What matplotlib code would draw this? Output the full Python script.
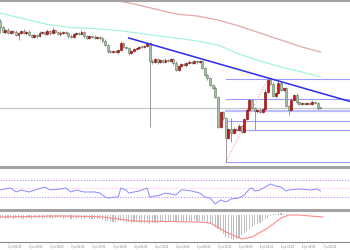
import matplotlib
matplotlib.use('Agg')
import matplotlib.pyplot as plt
import numpy as np

# hourly candles, first one is 1 Jul 23:00 (hour -3 relative to 2 Jul 02:00)
first_open = 145
closes = [139, 134, 136, 133, 135, 134, 131, 133, 135, 133,
          134, 131, 129, 131, 130, 133, 134, 132, 135, 133,
          136, 134, 132, 133, 134, 133, 130, 129, 132, 133,
          132, 134, 130, 128, 130, 129, 128, 129, 128, 125,
          121, 115, 114, 115, 114, 116, 123, 119, 118, 113,
          115, 117, 118, 119, 119, 120, 123, 105, 104, 107,
          104, 106, 104, 106, 105, 107, 103, 96, 100, 102,
          101, 103, 104, 103, 105, 104, 105, 98, 91, 88,
          81, 78, 69, 39, 54, 48, 28, 37, 33, 37,
          36, 40, 34, 47, 56, 66, 58, 55, 56, 54,
          57, 74, 86, 82, 70, 73, 83, 76, 78, 60,
          56, 66, 71, 64, 62, 63, 62, 63, 62, 64,
          63, 58, 58]
upper_wick = [2, 1, 1, 2, 1, 1, 2, 1, 1, 2,
              1, 2, 1, 1, 1, 2, 1, 1, 2, 1,
              3, 1, 1, 2, 1, 1, 1, 2, 1, 1,
              1, 2, 1, 1, 1, 1, 2, 1, 1, 1,
              2, 1, 1, 1, 1, 1, 2, 1, 1, 1,
              1, 1, 1, 1, 1, 1, 1, 1, 2, 1,
              1, 1, 1, 2, 1, 1, 1, 2, 1, 1,
              1, 1, 2, 1, 1, 1, 1, 1, 1, 1,
              1, 1, 2, 1, 1, 1, 1, 1, 11, 2,
              1, 2, 1, 1, 2, 2, 1, 1, 1, 2,
              1, 3, 1, 1, 2, 1, 3, 2, 1, 1,
              1, 2, 1, 2, 1, 1, 1, 1, 1, 2,
              1, 1, 1]
lower_wick = [6, 1, 2, 1, 1, 2, 1, 5, 1, 1,
              2, 1, 1, 1, 2, 1, 1, 1, 1, 2,
              1, 1, 1, 2, 1, 1, 2, 1, 1, 1,
              1, 1, 2, 1, 1, 1, 1, 1, 2, 1,
              1, 2, 1, 1, 1, 2, 1, 1, 1, 2,
              1, 1, 1, 1, 1, 1, 1, 66, 2, 1,
              2, 1, 1, 1, 1, 1, 2, 1, 1, 1,
              1, 2, 1, 1, 1, 2, 1, 1, 1, 2,
              1, 1, 1, 1, 1, 2, 24, 1, 9, 1,
              2, 1, 1, 1, 1, 1, 1, 19, 2, 1,
              1, 2, 1, 1, 1, 2, 1, 1, 1, 1,
              5, 1, 1, 2, 1, 1, 1, 1, 1, 1,
              1, 2, 1]

# moving averages (knots)
ma_fast_h = [-3, 0, 8, 16, 24, 32, 40, 48, 56, 64, 72, 80, 88, 96, 104, 112, 119]
ma_fast = [153, 151, 146, 141, 138.5, 137.5, 136, 133.5, 130.5, 128, 125, 121, 112, 105, 99, 94, 89]
ma_slow_h = [32, 40, 48, 56, 64, 72, 80, 88, 96, 104, 112, 119]
ma_slow = [170, 166, 162, 157, 152, 150, 146, 140, 133, 126, 119, 114]

# trend line, fibo anchors, last price
trend_h = [46, 131]
trend_p = [128, 64]
fib_low_h, fib_low = 83, 4
fib_high_h, fib_high = 99, 87
fib_ratios = [0, 0.236, 0.382, 0.5, 0.618, 1]
last_price = 58

# RSI (knots)
rsi_h = [-3, 1, 3, 5, 8, 14, 16, 20, 22, 24, 26, 29, 33, 35, 37, 38, 41, 42, 43, 45,
         46, 50, 52, 53, 54, 58, 60, 62, 64, 66, 67, 70, 73, 75, 77, 79, 80, 81, 83, 85,
         88, 90, 92, 93, 94, 96, 98, 100, 102, 104, 106, 107, 111, 115, 118, 119]
rsi = [46.5, 51.2, 41.8, 46.5, 41.8, 53.5, 46.5, 48.8, 51.2, 41.8, 46.5, 41.8, 41.8, 39.4,
       30, 27.6, 30, 30, 51.2, 46.5, 39.4, 44.1, 48.8, 51.2, 30, 34.7, 39.4, 37.1, 34.7,
       46.5, 46.5, 44.1, 39.4, 30, 27.6, 13.5, 18.2, 22.9, 18.2, 25.3, 27.6, 34.7, 48.8,
       51.2, 44.1, 46.5, 53.5, 60.6, 55.9, 53.5, 44.1, 46.5, 48.8, 46.5, 48.8, 44.1]

# MACD histogram (hourly) and signal (knots)
macd_hist = [-3, -3, -4, -3, -3, -4, -3, -3, -4, -4,
             -3, -3, -4, -3, -3, -3, -4, -3, -3, -3,
             -4, -3, -3, -3, -4, -3, -3, -4, -3, -4,
             -3, -4, -4, -3, -4, -4, -4, -4, -4,
             -5, -6, -6, -7, -7, -7, -6, -6, -7, -7,
             -7, -8, -7, -7, -8, -8, -8, -8, -9, -8,
             -8, -8, -7, -7, -8, -7, -7, -7,
             -6, -6, -6, -7, -6, -6, -6, -5, -6, -6,
             -6, -6, -8, -9,
             -10, -12, -14,
             -16, -19, -22, -23, -24, -25, -24, -23,
             -20, -18, -16, -14, -12, -10,
             -9, -8, -6,
             -4, -3, -1, 1, 1, 2, 2, 1,
             1, 0, 0, 0, 0, 0, 0, 0, 0, 0, 0, 0, 0, 0]
sig_h = [-3, 8, 20, 35, 48, 60, 73, 77, 83, 89, 93, 99, 104, 107, 111, 115, 120]
sig = [-2, -1.5, -1, -1.7, -6, -6.5, -7, -8, -17, -24, -22, -13, -3, 0, 0, -1, -2]

tick_labels = ['2 Jul 02:00', '2 Jul 10:00', '2 Jul 18:00', '3 Jul 02:00', '3 Jul 10:00',
               '3 Jul 18:00', '4 Jul 02:00', '4 Jul 10:00', '4 Jul 18:00', '5 Jul 02:00',
               '5 Jul 10:00', '5 Jul 18:00', '6 Jul 02:00', '6 Jul 10:00', '6 Jul 18:00',
               '7 Jul 02:00']

closes = np.array(closes, dtype=float)
hours = np.arange(-3, -3 + len(closes))
opens = np.r_[first_open, closes[:-1]]
highs = np.maximum(opens, closes) + np.array(upper_wick)
lows = np.minimum(opens, closes) - np.array(lower_wick)

fig = plt.figure(figsize=(3.5, 2.5), dpi=100)
ax = fig.add_axes([0, 0.336, 1, 0.66])
ax_rsi = fig.add_axes([0, 0.16, 1, 0.168], sharex=ax)
ax_macd = fig.add_axes([0, 0.032, 1, 0.124], sharex=ax)

# candles
ax.vlines(hours, lows, highs, color='#8a8a8a', lw=0.6, zorder=2)
bull = closes <= opens
bear = ~bull
body = np.maximum(np.abs(closes - opens), 0.6)
ax.bar(hours[bull], body[bull], bottom=np.minimum(opens, closes)[bull], width=0.75,
       color='#a9bfa9', edgecolor='#5e7a5e', lw=0.4, zorder=3)
ax.bar(hours[bear], body[bear], bottom=np.minimum(opens, closes)[bear], width=0.75,
       color='#d01515', edgecolor='#7a0000', lw=0.4, zorder=3)

ax.plot(ma_fast_h, ma_fast, color='#a6f5d8', lw=0.9, zorder=1)
ax.plot(ma_slow_h, ma_slow, color='#e3a7a7', lw=0.9, zorder=1)
ax.plot(trend_h, trend_p, color='#2b2bea', lw=1.1, zorder=4)
ax.axhline(last_price, color='#c4c4c4', lw=0.8, zorder=1)

for r in fib_ratios:
    lvl = fib_high - r * (fib_high - fib_low)
    lw = 1.6 if r == 0.382 else 0.8
    col = '#bdbdff' if r == 0.382 else '#9c9cff'
    ax.plot([fib_low_h, 131], [lvl, lvl], color=col, lw=lw, zorder=1)
ax.plot([fib_low_h, fib_high_h], [fib_low, fib_high], color='#ff9a9a', lw=0.8, ls=(0, (1, 1.5)), zorder=1)

ax.set_ylim(0, 165)
ax.set_xlim(-3.05, 130.3)

# RSI
ax_rsi.axhline(70, color='#c48cff', lw=0.8, ls=(0, (1, 1.5)))
ax_rsi.axhline(30, color='#c48cff', lw=0.8, ls=(0, (1, 1.5)))
ax_rsi.axhline(50, color='#ffcdf5', lw=0.8, ls=(0, (1, 1)))
ax_rsi.plot(rsi_h, rsi, color='#8a8aff', lw=0.7)
ax_rsi.set_ylim(-0.6, 98.2)

# MACD
ax_macd.bar(hours, macd_hist, width=0.45, color='#bdbdbd', zorder=1)
ax_macd.plot(sig_h, sig, color='#ff8a8a', lw=0.8, zorder=2)
ax_macd.set_ylim(-27, 4)

for a in (ax, ax_rsi, ax_macd):
    for s in a.spines.values():
        s.set_visible(False)
    a.tick_params(left=False, bottom=False, labelleft=False, labelbottom=False)

ax_macd.spines['bottom'].set_visible(True)
ax_macd.spines['bottom'].set_color('#8c8c8c')
ax_macd.spines['bottom'].set_linewidth(0.8)
ax_macd.set_xticks(np.arange(len(tick_labels)) * 8)
ax_macd.set_xticklabels(tick_labels, fontsize=1.8, color='#777777', ha='left')
ax_macd.tick_params(bottom=True, labelbottom=True, length=1, width=0.4, color='#8c8c8c', pad=1)

for yy, lw in [(0.998, 1.5), (0.332, 2.2), (0.16, 2.2)]:
    fig.add_artist(plt.Line2D([0, 1], [yy, yy], transform=fig.transFigure, color='#a3a3a3', lw=lw))

fig.savefig('out.png', dpi=100)
